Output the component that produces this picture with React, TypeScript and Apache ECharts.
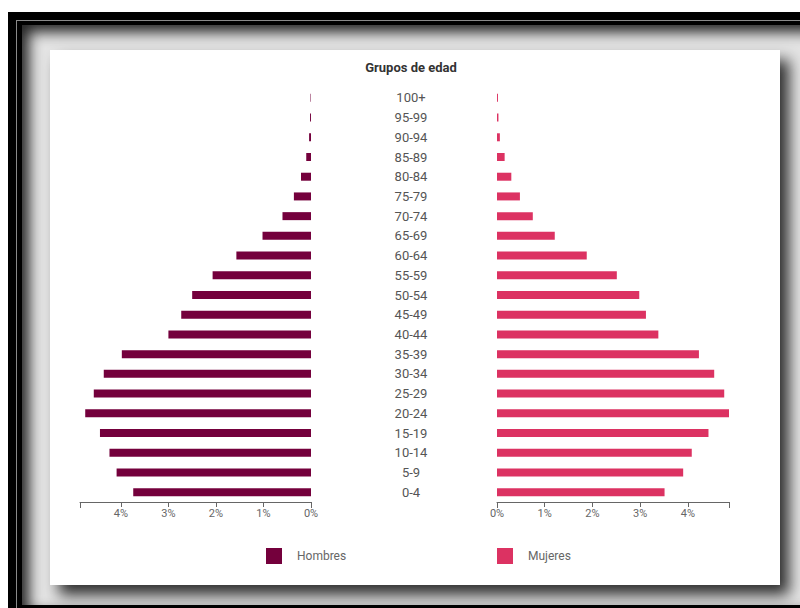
import React, { useEffect, useRef } from "react";
import * as echarts from "echarts";

const ages = ["0-4", "5-9", "10-14", "15-19", "20-24", "25-29", "30-34", "35-39", "40-44", "45-49", "50-54", "55-59", "60-64", "65-69", "70-74", "75-79", "80-84", "85-89", "90-94", "95-99", "100+"];
const hombres = [3.74, 4.09, 4.24, 4.44, 4.75, 4.57, 4.36, 3.98, 3.0, 2.73, 2.5, 2.07, 1.57, 1.02, 0.6, 0.36, 0.21, 0.1, 0.04, 0.02, 0.01];
const mujeres = [3.51, 3.9, 4.08, 4.43, 4.86, 4.76, 4.55, 4.23, 3.38, 3.12, 2.98, 2.51, 1.88, 1.21, 0.75, 0.48, 0.3, 0.16, 0.06, 0.03, 0.02];
const seriesNames = ["Hombres", "Mujeres"];
const title = "Grupos de edad";

const colH = "#74003c";
const colM = "#dc3262";
const font = "Roboto, 'Noto Sans', sans-serif";

export default function App() {
  const ref = useRef<HTMLDivElement>(null);
  useEffect(() => {
    if (!ref.current) return;
    const chart = echarts.init(ref.current, null, { renderer: "svg" });
    const axisMax = Math.max(...hombres, ...mujeres);
    const xAxisBase = {
      type: "value",
      min: 0,
      max: axisMax,
      interval: 1,
      axisLine: { show: true, lineStyle: { color: "#666", width: 1 } },
      axisTick: { show: true, length: 5, lineStyle: { color: "#666" } },
      axisLabel: {
        formatter: "{value}%",
        color: "#666",
        fontSize: 11,
        fontFamily: font,
        margin: 6,
        showMaxLabel: false,
      },
      splitLine: { show: false },
    };
    const endTickAxis = {
      type: "value",
      min: 0,
      max: axisMax,
      interval: axisMax,
      position: "bottom",
      axisLine: { show: false },
      axisTick: { show: true, length: 6, lineStyle: { color: "#666" } },
      axisLabel: { show: false },
      splitLine: { show: false },
    };
    const legendBase = {
      icon: "rect",
      itemWidth: 16,
      itemHeight: 16,
      textStyle: { color: "#666", fontSize: 12, fontFamily: font, padding: [0, 0, 0, 10] },
    };
    chart.setOption({
      animation: false,
      textStyle: { fontFamily: font },
      title: {
        text: title,
        left: 356,
        textAlign: "center",
        top: 6,
        textStyle: { fontSize: 13, fontWeight: "bold", color: "#333", fontFamily: font },
      },
      legend: [
        { ...legendBase, data: [seriesNames[0]], left: 211, top: 493 },
        { ...legendBase, data: [seriesNames[1]], left: 442, top: 493 },
      ],
      grid: [
        { left: 30, width: 231, top: 38, height: 414 },
        { left: 447, width: 232, top: 38, height: 414 },
      ],
      xAxis: [
        { ...xAxisBase, gridIndex: 0, inverse: true },
        { ...xAxisBase, gridIndex: 1 },
        { ...endTickAxis, gridIndex: 0, inverse: true },
        { ...endTickAxis, gridIndex: 1 },
      ],
      yAxis: [
        { type: "category", gridIndex: 0, data: ages, show: false },
        {
          type: "category",
          gridIndex: 1,
          data: ages,
          axisLine: { show: false },
          axisTick: { show: false },
          axisLabel: {
            align: "center",
            margin: 86,
            color: "#555",
            fontSize: 13,
            fontFamily: font,
          },
        },
      ],
      series: [
        {
          name: seriesNames[0],
          type: "bar",
          xAxisIndex: 0,
          yAxisIndex: 0,
          data: hombres,
          barWidth: 8,
          itemStyle: { color: colH },
        },
        {
          name: seriesNames[1],
          type: "bar",
          xAxisIndex: 1,
          yAxisIndex: 1,
          data: mujeres,
          barWidth: 8,
          itemStyle: { color: colM },
        },
      ],
    });
    return () => chart.dispose();
  }, []);

  return (
    <div style={{ position: "fixed", left: 0, top: 0, width: 800, height: 608, background: "#fff", overflow: "hidden" }}>
      <div style={{ position: "absolute", left: 8, top: 12, width: 800, height: 600, background: "#000" }} />
      <div style={{ position: "absolute", left: 16, top: 20, width: 790, height: 590, borderTop: "1px solid #8a8a8a", borderLeft: "1px solid #8a8a8a", background: "#000" }} />
      <div
        style={{
          position: "absolute",
          left: 22,
          top: 25,
          width: 790,
          height: 580,
          background: "#e4e4e4",
          boxShadow: "inset 7px 7px 14px rgba(0,0,0,0.85)",
        }}
      />
      <div
        style={{
          position: "absolute",
          left: 50,
          top: 50,
          width: 730,
          height: 535,
          background: "#fff",
          boxShadow: "9px 10px 14px rgba(0,0,0,0.8)",
        }}
      >
        <div ref={ref} style={{ width: 730, height: 535 }} />
      </div>
    </div>
  );
}
